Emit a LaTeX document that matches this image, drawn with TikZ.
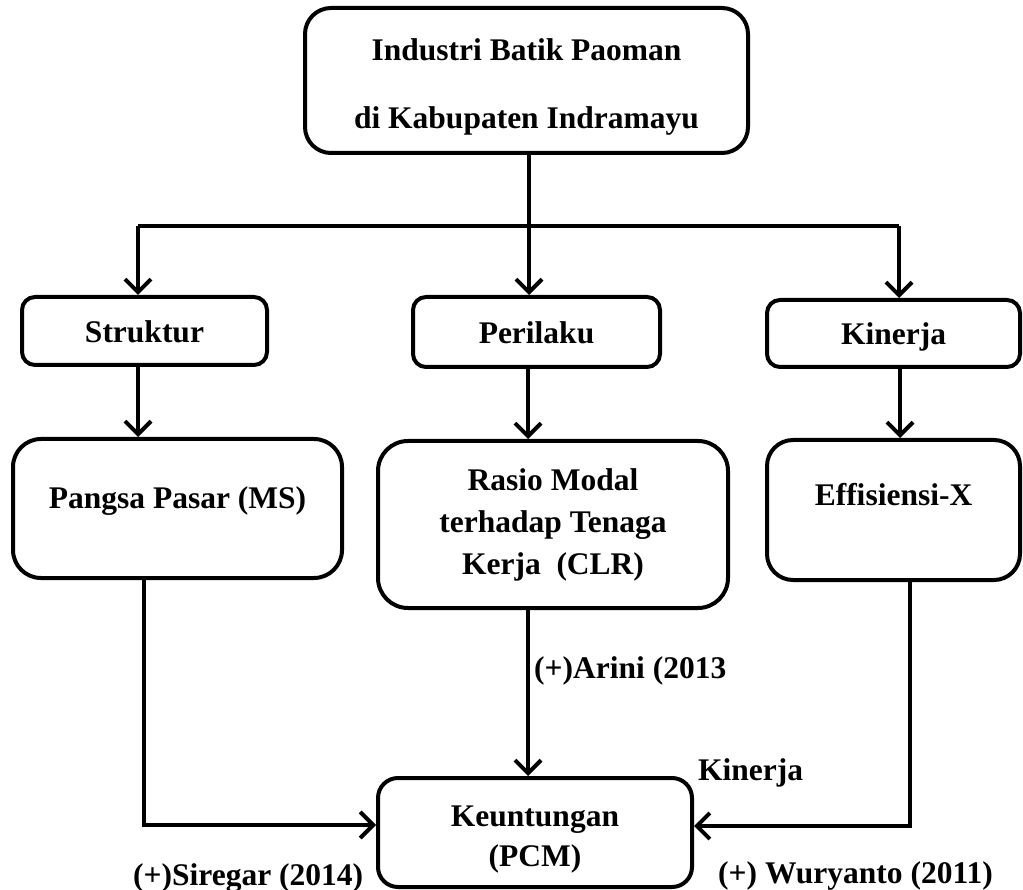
\documentclass[tikz,border=0pt]{standalone}
\usepackage{fontspec}
\setmainfont{Liberation Serif}
\usetikzlibrary{arrows.meta}
\begin{document}
\begin{tikzpicture}[x=1pt,y=-1pt,
  box/.style={draw, line width=4pt, rounded corners=#1, align=center, inner sep=0pt,
    font=\fontsize{31.5}{38}\selectfont\bfseries},
  box/.default=14pt,
  small/.style={text height=23pt, text depth=0pt},
  conn/.style={line width=4pt},
  arr/.style={conn, -{Straight Barb[length=13pt,width=26pt,line width=4pt]}},
  lbl/.style={inner sep=0pt, anchor=base west, font=\fontsize{31.5}{38}\selectfont\bfseries}]
\useasboundingbox (0,0) rectangle (1023,890);

% boxes
\node[box=26pt, minimum width=443pt, minimum height=145pt,
      font=\fontsize{31.5}{68}\selectfont\bfseries] (top) at (526.5,80.5)
  {\rule{0pt}{34pt}Industri Batik Paoman\\di Kabupaten Indramayu};
\node[box=13pt, small, minimum width=245pt, minimum height=68pt] (str) at (144.5,331) {Struktur};
\node[box=13pt, small, minimum width=247pt, minimum height=70pt] (per) at (536.5,332) {Perilaku};
\node[box=13pt, small, minimum width=253pt, minimum height=67pt] (kin) at (893.5,333.5) {Kinerja};
\node[box=28pt, text height=20pt, text depth=20pt, minimum width=329pt, minimum height=139pt] (ms) at (177.5,508.5) {Pangsa Pasar (MS)};
\node[box=30pt, minimum width=350pt, minimum height=167pt,
      font=\fontsize{31.5}{42}\selectfont\bfseries] (clr) at (553,524.5)
  {Rasio Modal\\terhadap Tenaga\\Kerja~~(CLR)};
\node[box=26pt, text height=20pt, text depth=30pt, minimum width=253pt, minimum height=140pt] (eff) at (893.5,510) {Effisiensi-X};
\node[box=20pt, minimum width=314pt, minimum height=109pt,
      font=\fontsize{31.5}{40}\selectfont\bfseries] (pcm) at (535,832.5)
  {\rule{0pt}{34pt}Keuntungan\\(PCM)};

% junctions
\coordinate (jc) at (529,226);
\coordinate (jl) at (138,226);
\coordinate (jr) at (899,226);
\coordinate (ml) at (144,825);
\coordinate (mr) at (910,826);

% connectors
\draw[conn] (top.south -| jc) -- (jc);
\draw[conn] (jl) -- (jr);
\draw[arr] (jl) -- (jl |- str.north);
\draw[arr] (jc) -- (jc |- per.north);
\draw[arr] (jr) -- (jr |- kin.north);
\draw[arr] (str.south -| jl) -- (ms.north -| jl);
\draw[arr] (per.south -| 528,0) -- (clr.north -| 528,0);
\draw[arr] (kin.south -| 900,0) -- (eff.north -| 900,0);
\draw[arr] (clr.south -| 528,0) -- (pcm.north -| 528,0);
\draw[arr] (ms.south -| ml) -- (ml) -- (ml -| pcm.west);
\draw[arr] (eff.south -| mr) -- (mr) -- (mr -| pcm.east);

% labels
\node[lbl] (arini) at (534,678) {(+)Arini (2013};
\node[lbl] (kinl) at (698,780) {Kinerja};
\node[lbl] (wur) at (718,883) {(+) Wuryanto (2011)};
\node[lbl] (sir) at (133,885) {(+)Siregar (2014)};
\end{tikzpicture}
\end{document}
